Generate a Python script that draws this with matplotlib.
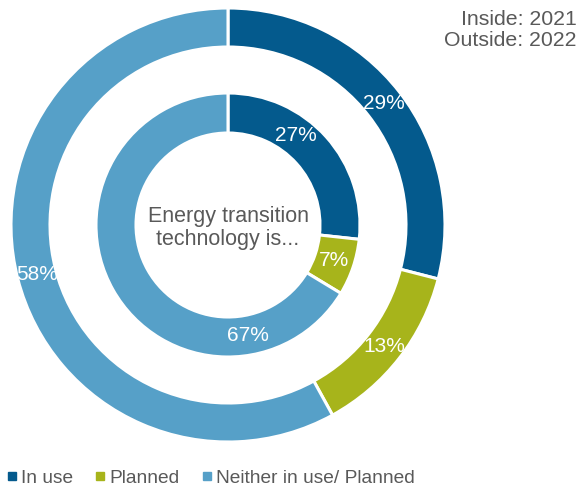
import numpy as np
import matplotlib.pyplot as plt
from matplotlib.lines import Line2D

plt.rcParams['font.family'] = ['Liberation Sans', 'DejaVu Sans']

# Data
categories = ["In use", "Planned", "Neither in use/ Planned"]
outer_2022 = [29, 13, 58]
inner_2021 = [27, 7, 67]
colors = ["#045A8D", "#A7B41B", "#56A0C8"]
text_grey = "#595959"

fig = plt.figure(figsize=(5.8, 4.92), dpi=100)
ax = fig.add_axes([0, 0, 1, 1])

cx, cy = 228, 492 - 225
r_out = 217
r_in = 132
w_out = 39
w_in = 40

# Outer ring (2022)
ax.pie(outer_2022, radius=r_out, center=(cx, cy), colors=colors,
       startangle=90, counterclock=False,
       labels=[f"{v}%" for v in outer_2022],
       labeldistance=(r_out - w_out / 2) / r_out,
       textprops=dict(color="white", fontsize=15, ha="center", va="center"),
       wedgeprops=dict(width=w_out, edgecolor="white", linewidth=2.2),
       frame=True)

# Inner ring (2021)
_, inner_txt = ax.pie(inner_2021, radius=r_in, center=(cx, cy), colors=colors,
                      startangle=90, counterclock=False,
                      labels=[f"{v}%" for v in inner_2021],
                      labeldistance=(r_in - w_in / 2) / r_in,
                      textprops=dict(color="white", fontsize=15, ha="center", va="center"),
                      wedgeprops=dict(width=w_in, edgecolor="white", linewidth=2.2),
                      frame=True)

# the original nudges two of the inner labels away from the slice middle
r_lab = r_in - w_in / 2
for t, ang in [(inner_txt[0], 53), (inner_txt[2], -80)]:
    t.set_position((cx + r_lab * np.cos(np.radians(ang)), cy + r_lab * np.sin(np.radians(ang))))

ax.set_xlim(0, 580)
ax.set_ylim(0, 492)
ax.set_aspect("equal")
ax.axis("off")

# Centre text
ax.text(cx, 492 - 228, "Energy transition\ntechnology is...", ha="center", va="center",
        fontsize=15.5, color=text_grey, linespacing=1.1)

# Year note
fig.text(577 / 580, 1 - 10 / 492, "Inside: 2021\nOutside: 2022", ha="right", va="top",
         fontsize=15.3, color=text_grey, linespacing=1.1)

# Legend
handles = [Line2D([0], [0], marker="s", linestyle="none", markersize=6,
                  markerfacecolor=c, markeredgecolor=c) for c in colors]
fig.legend(handles, categories, loc="center left", bbox_to_anchor=(5 / 580, 1 - 478 / 492),
           ncol=3, frameon=False, fontsize=13.8, labelcolor=text_grey,
           handlelength=0.5, handletextpad=0.25, columnspacing=1.15, borderaxespad=0,
           borderpad=0.1)

fig.savefig("out.png", dpi=100)
